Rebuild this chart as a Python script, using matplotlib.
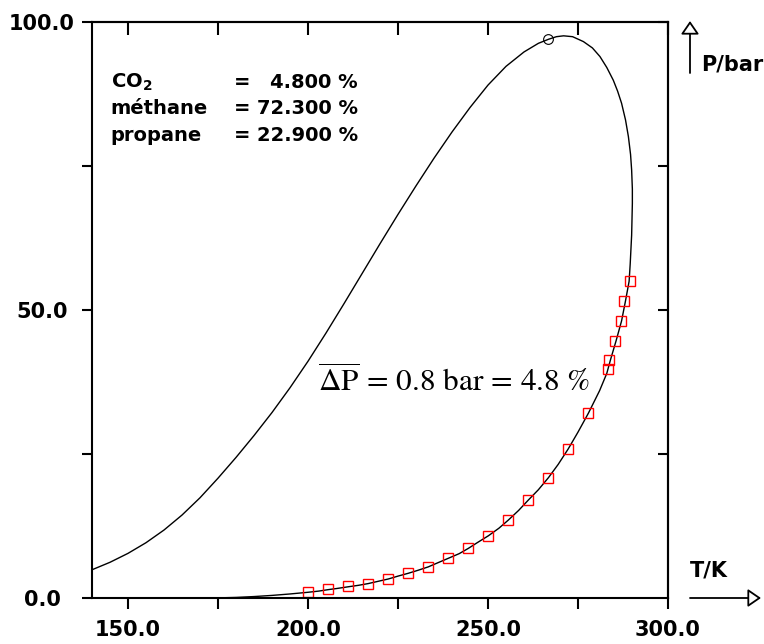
import matplotlib
matplotlib.use("Agg")
import matplotlib.pyplot as plt
from matplotlib.ticker import FixedLocator, NullFormatter

# phase envelope (bubble branch -> critical region -> dew branch)
T_env = [140.0, 145, 150, 155, 160, 165, 170, 175, 180, 185, 190, 195, 200, 205, 210,
         215, 220, 225, 230, 235, 240, 245, 250, 255, 260, 264, 266.8, 269, 271,
         273.5, 276.5, 279, 281.1, 283, 284.8, 286, 287.1, 288.2, 289.0, 289.6, 289.9,
         290.1, 290.1, 289.9, 289.5, 289.2, 288.2, 287.1, 285.6, 284.0, 283.0, 281.0,
         277.9, 275, 272.3, 269.5, 266.8, 264, 261.2, 258.5, 255.6, 253, 250.1, 247,
         244.5, 242, 239, 236, 233.4, 230.5, 227.9, 225, 222.3, 219.5, 216.7, 214,
         211.2, 208, 205.6, 203, 200.1, 195, 190, 185, 180, 175, 170]
P_env = [4.9, 6.2, 7.75, 9.6, 11.8, 14.4, 17.4, 20.8, 24.4, 28.2, 32.2, 36.5, 41.1, 46.0,
         51.1, 56.3, 61.5, 66.6, 71.55, 76.35, 80.9, 85.15, 89.05, 92.3, 94.8, 96.3, 97.0,
         97.45, 97.6, 97.45, 96.6, 95.5, 94.0, 92.1, 89.9, 88.0, 85.9, 83.0, 80.1, 77.0,
         74.3, 71.0, 68.5, 63.0, 58.0, 55.0, 51.6, 48.1, 44.7, 41.3, 39.0, 36.0, 32.1,
         28.8, 25.9, 23.2, 20.9, 18.8, 17.0, 15.2, 13.5, 12.1, 10.8, 9.6, 8.6, 7.7, 6.9,
         6.1, 5.4, 4.8, 4.3, 3.8, 3.3, 2.9, 2.5, 2.2, 1.95, 1.65, 1.45, 1.2, 1.0, 0.7,
         0.45, 0.25, 0.1, 0.02, 0.0]

# experimental dew points
T_exp = [200.1, 205.6, 211.2, 216.7, 222.3, 227.9, 233.4, 239.0, 244.5, 250.1, 255.6,
         261.2, 266.8, 272.3, 277.9, 283.4, 283.7, 285.3, 286.9, 287.8, 289.4]
P_exp = [1.1, 1.5, 2.0, 2.5, 3.3, 4.3, 5.4, 6.9, 8.6, 10.8, 13.5, 17.0, 20.9, 25.9,
         32.2, 39.7, 41.3, 44.7, 48.1, 51.6, 55.1]

T_crit = [266.8]
P_crit = [97.0]

components = ["CO$_\\mathbf{2}$", "méthane", "propane"]
fractions = [4.8, 72.3, 22.9]

W, H = 764, 644
fig = plt.figure(figsize=(W / 100, H / 100), dpi=100)
ax = fig.add_axes([92 / W, 1 - 598 / H, 576 / W, 576 / H])

ax.plot(T_env, P_env, color="black", lw=1.0)
ax.plot(T_exp, P_exp, ls="none", marker="s", ms=7, mfc="none", mec="red", mew=1.0)
ax.plot(T_crit, P_crit, ls="none", marker="o", ms=7, mfc="none", mec="black", mew=0.8)

ax.set_xlim(140, 300)
ax.set_ylim(0, 100)
for s in ax.spines.values():
    s.set_linewidth(1.5)

tick_font = dict(fontsize=15, fontweight="bold")
ax.xaxis.set_major_locator(FixedLocator([150, 200, 250, 300]))
ax.set_xticklabels(["150.0", "200.0", "250.0", "300.0"], **tick_font)
ax.yaxis.set_major_locator(FixedLocator([0, 50, 100]))
ax.set_yticklabels(["0.0", "50.0", "100.0"], **tick_font)
ax.minorticks_on()
ax.xaxis.set_minor_locator(FixedLocator([175, 225, 275]))
ax.yaxis.set_minor_locator(FixedLocator([25, 75]))
ax.tick_params(axis="x", which="both", direction="out", length=8, width=1.5, pad=8)
ax.tick_params(axis="y", which="both", direction="out", length=7, width=1.5, pad=29)
for lab in ax.get_yticklabels():
    lab.set_horizontalalignment("center")

top = ax.secondary_xaxis("top")
top.set_xticks([150, 175, 200, 225, 250, 275, 300])
top.xaxis.set_major_formatter(NullFormatter())
top.tick_params(direction="in", length=9, width=1.5)
top.spines["top"].set_linewidth(1.5)
right = ax.secondary_yaxis("right")
right.set_yticks([25, 50, 75, 100])
right.yaxis.set_major_formatter(NullFormatter())
right.tick_params(direction="in", length=7, width=1.5)
right.spines["right"].set_linewidth(1.5)

# composition block
row_y = [0.886, 0.8398, 0.7934]
for name, frac, y in zip(components, fractions, row_y):
    ax.text(0.0325, y, name, transform=ax.transAxes, fontsize=14, fontweight="bold",
            va="baseline", ha="left")
    ax.text(0.2465, y, "=", transform=ax.transAxes, fontsize=14, fontweight="bold",
            va="baseline", ha="left")
    ax.text(0.4618, y, f"{frac:.3f} %", transform=ax.transAxes, fontsize=14,
            fontweight="bold", va="baseline", ha="right")

ax.text(0.392, 0.358,
        r"$\overline{\Delta\mathrm{P}}\,=\,0.8\ \mathrm{bar}\,=\,4.8\ \%$",
        transform=ax.transAxes, fontsize=22.5, math_fontfamily="stix", va="baseline")

# axis arrows outside the frame
arrow = dict(arrowstyle="-|>,head_length=0.8,head_width=0.55", fc="white", ec="black",
             lw=1.3, shrinkA=0, shrinkB=0, mutation_scale=10)
ax.annotate("", xy=(761, H - 598), xytext=(690, H - 598), xycoords="figure pixels",
            textcoords="figure pixels", arrowprops=arrow, annotation_clip=False)
ax.annotate("", xy=(690, H - 21), xytext=(690, H - 73), xycoords="figure pixels",
            textcoords="figure pixels", arrowprops=arrow, annotation_clip=False)
fig.text(690 / W, 1 - 577 / H, "T/K", fontsize=15, fontweight="bold", va="baseline")
fig.text(701 / W, 1 - 71 / H, "P/bar", fontsize=15, fontweight="bold", va="baseline")

fig.savefig("out.png", dpi=100)
